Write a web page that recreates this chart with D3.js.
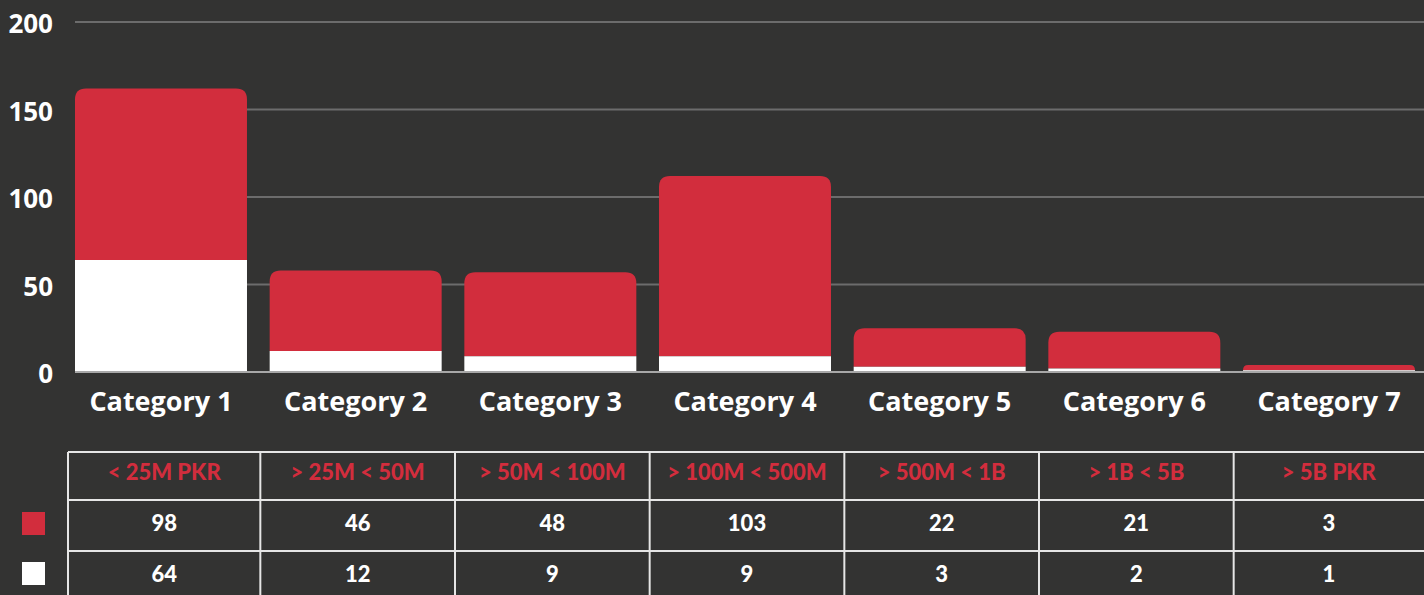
<!DOCTYPE html>
<html><head><meta charset="utf-8">
<script src="https://cdn.jsdelivr.net/npm/d3@7"></script>
<style>
html,body{margin:0;padding:0;background:#333332;}
svg{display:block;}
</style></head>
<body>
<svg id="chart" width="1424" height="595"></svg>
<script>
const categories = ["Category 1","Category 2","Category 3","Category 4","Category 5","Category 6","Category 7"];
const ranges = ["< 25M PKR","> 25M < 50M","> 50M < 100M","> 100M < 500M","> 500M < 1B","> 1B < 5B","> 5B PKR"];
const redValues = [98,46,48,103,22,21,3];
const whiteValues = [64,12,9,9,3,2,1];
const yTicks = [0,50,100,150,200];

const RED = "#d22d3d", WHITE = "#ffffff", BG = "#333332";
const svg = d3.select("#chart");
svg.append("rect").attr("width",1424).attr("height",595).attr("fill",BG);

const x = d3.scaleBand().domain(categories).range([75,1415]).paddingInner(0.1165).paddingOuter(0);
const y = d3.scaleLinear().domain([0,200]).range([372,22]);

const yAxis = d3.axisLeft(y).tickValues(yTicks).tickSize(0).tickPadding(0);
const gAxis = svg.append("g").attr("transform","translate(53,2)").call(yAxis);
gAxis.select(".domain").remove();
gAxis.selectAll("text").attr("fill","#ffffff").attr("font-family","'Open Sans'").attr("font-weight",700).attr("font-size",26).attr("dy","0.33em");

svg.append("g").selectAll("line").data(yTicks.filter(d=>d>0)).join("line")
  .attr("x1",75).attr("x2",1424).attr("y1",d=>y(d)).attr("y2",d=>y(d))
  .attr("stroke","#6c6c6c").attr("stroke-width",2);
svg.append("line").attr("x1",75).attr("x2",1424).attr("y1",y(0)).attr("y2",y(0))
  .attr("stroke","#a8a8a8").attr("stroke-width",2);

const data = categories.map((c,i)=>({c, r:redValues[i], w:whiteValues[i]}));
const bw = x.bandwidth();
function topRounded(x0,y0,w,h,r){
  r = Math.min(r,h,w/2);
  return `M${x0},${y0+h}V${y0+r}Q${x0},${y0} ${x0+r},${y0}H${x0+w-r}Q${x0+w},${y0} ${x0+w},${y0+r}V${y0+h}Z`;
}
const gb = svg.append("g");
gb.selectAll("path.red").data(data).join("path").attr("class","red")
  .attr("d",d=>{const yt=y(d.r+d.w), yb=y(d.w); return topRounded(x(d.c),yt,bw,yb-yt,11);})
  .attr("fill",RED);
gb.selectAll("rect.white").data(data).join("rect").attr("class","white")
  .attr("x",d=>x(d.c)).attr("width",bw).attr("y",d=>y(d.w)).attr("height",d=>y(0)-y(d.w)-1)
  .attr("fill",WHITE);

const xAxis = d3.axisBottom(x).tickSize(0).tickPadding(0);
const gx = svg.append("g").attr("transform","translate(0,402)").call(xAxis);
gx.select(".domain").remove();
gx.selectAll("text").attr("fill","#ffffff").attr("font-family","'Open Sans'").attr("font-weight",700).attr("font-size",27).attr("dy","0.35em");

const step = x.step();
const colEdges = categories.map(c=>x(c)+bw/2-step/2+2);
colEdges[0] = 68;
const rightEdge = 1430;
const rowTops = [452,500,551,602];
const tbl = svg.append("g");
const lineColor = "#e6e6e6";
rowTops.forEach(ry=>tbl.append("line").attr("x1",68).attr("x2",rightEdge).attr("y1",ry).attr("y2",ry).attr("stroke",lineColor).attr("stroke-width",2));
colEdges.forEach(cx=>tbl.append("line").attr("x1",cx).attr("x2",cx).attr("y1",452).attr("y2",602).attr("stroke",lineColor).attr("stroke-width",2));

const colCenter = (i)=>{const a=colEdges[i], b=(i<6?colEdges[i+1]:1424); return (a+b)/2;};
const tf = "Lato";
const tw = 900;
tbl.selectAll("text.hdr").data(ranges).join("text").attr("class","hdr")
  .attr("x",(d,i)=>colCenter(i)).attr("y",472).attr("text-anchor","middle").attr("dy","0.35em")
  .attr("fill",RED).attr("font-family",tf).attr("font-weight",tw).attr("font-size",22).text(d=>d);
tbl.selectAll("text.rv").data(redValues).join("text").attr("class","rv")
  .attr("x",(d,i)=>colCenter(i)).attr("y",523).attr("text-anchor","middle").attr("dy","0.35em")
  .attr("fill","#ffffff").attr("font-family",tf).attr("font-weight",tw).attr("font-size",22).text(d=>d);
tbl.selectAll("text.wv").data(whiteValues).join("text").attr("class","wv")
  .attr("x",(d,i)=>colCenter(i)).attr("y",574).attr("text-anchor","middle").attr("dy","0.35em")
  .attr("fill","#ffffff").attr("font-family",tf).attr("font-weight",tw).attr("font-size",22).text(d=>d);

svg.append("rect").attr("x",22).attr("y",512).attr("width",23).attr("height",23).attr("fill",RED);
svg.append("rect").attr("x",22).attr("y",562).attr("width",23).attr("height",23).attr("fill",WHITE);
</script>
</body></html>
